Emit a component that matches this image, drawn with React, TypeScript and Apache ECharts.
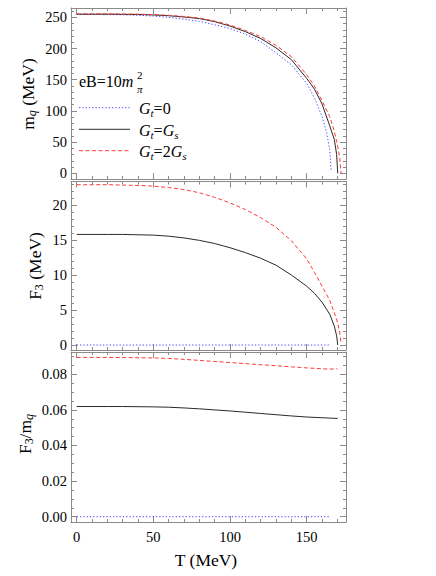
import React, { useEffect, useRef } from "react";
import * as echarts from "echarts";

// ---------- data ----------
const tBlack = [0, 10, 20, 30, 40, 50, 60, 70, 80, 90, 100, 110, 120, 130, 140, 150, 155, 160, 165, 168, 169.5, 170.2];
const mBlack = [255, 255, 255, 254.8, 254.5, 253.8, 252.5, 250.5, 248, 243, 236, 227, 216, 201, 182, 152, 135, 111, 76, 54, 30, 0];
const fBlack = [15.8, 15.8, 15.8, 15.8, 15.75, 15.7, 15.55, 15.3, 14.95, 14.5, 13.9, 13.2, 12.4, 11.4, 10.0, 8.4, 7.4, 6.1, 4.4, 2.7, 1.3, 0];

const tRed = [0, 10, 20, 30, 40, 50, 60, 70, 80, 90, 100, 110, 120, 130, 140, 150, 155, 160, 165, 168, 170, 171.5, 172.4];
const mRed = [255.5, 255.5, 255.5, 255.3, 255, 254.4, 253.2, 251.3, 248.8, 244, 237.5, 229, 219, 205, 187, 158, 140, 116, 91, 67, 46, 25, 0];
const fRed = [22.9, 22.9, 22.9, 22.85, 22.8, 22.7, 22.5, 22.2, 21.75, 21.1, 20.3, 19.35, 18.2, 16.8, 14.9, 12.3, 10.4, 8.4, 6.4, 4.6, 3.3, 1.8, 0.2];

const tBlue = [0, 10, 20, 30, 40, 50, 60, 70, 80, 90, 100, 110, 120, 130, 140, 150, 155, 160, 163, 165, 165.9];
const mBlue = [254.5, 254.5, 254.3, 254, 253.3, 252, 250, 247, 243.5, 238, 232, 223, 211, 193, 174, 144, 121, 91, 65, 38, 3];
const tBlueFlat = [0, 165.3];
const fBlue = [0, 0];
const rBlue = [0, 0];

const tRatioBlack = [0, 10, 20, 30, 40, 50, 60, 70, 80, 90, 100, 110, 120, 130, 140, 150, 160, 165, 170.2];
const rBlack = [0.0619, 0.0619, 0.0619, 0.0619, 0.0618, 0.0617, 0.0615, 0.0611, 0.0606, 0.06, 0.0594, 0.0587, 0.058, 0.0573, 0.0566, 0.056, 0.0556, 0.0554, 0.0552];
const tRatioRed = [0, 10, 20, 30, 40, 50, 60, 70, 80, 90, 100, 110, 120, 130, 140, 150, 160, 165, 170];
const rRed = [0.0895, 0.0895, 0.0895, 0.0894, 0.0893, 0.0892, 0.0889, 0.0884, 0.0878, 0.0872, 0.0866, 0.086, 0.0854, 0.0848, 0.0842, 0.0836, 0.0831, 0.0829, 0.0831];

const xMajor = [0, 50, 100, 150];
const xMinor = [0, 10, 20, 30, 40, 50, 60, 70, 80, 90, 100, 110, 120, 130, 140, 150, 160, 170];
const y1Major = [0, 50, 100, 150, 200, 250];
const y1Minor = [0, 10, 20, 30, 40, 50, 60, 70, 80, 90, 100, 110, 120, 130, 140, 150, 160, 170, 180, 190, 200, 210, 220, 230, 240, 250, 260];
const y2Major = [0, 5, 10, 15, 20];
const y2Minor = [0, 1, 2, 3, 4, 5, 6, 7, 8, 9, 10, 11, 12, 13, 14, 15, 16, 17, 18, 19, 20, 21, 22, 23];
const y3Major = [0, 0.02, 0.04, 0.06, 0.08];
const y3Minor = [0, 0.005, 0.01, 0.015, 0.02, 0.025, 0.03, 0.035, 0.04, 0.045, 0.05, 0.055, 0.06, 0.065, 0.07, 0.075, 0.08, 0.085, 0.09];

const legendNames = ["G_t=0", "G_t=G_s", "G_t=2G_s"];

// ---------- styles ----------
const FONT = "Liberation Serif, DejaVu Serif, serif";
const FRAME = "#8a8a8a";
const BLUE = "#4a4aff";
const BLACK = "#2a2a2a";
const RED = "#ff3a3a";
const DOT: number[] = [1.3, 2];
const DASH: number[] = [4, 2.5];

const XMIN = -3.7;
const XMAX = 175.6;

const grids = [
  { left: 71, top: 8, width: 275, height: 171 },
  { left: 71, top: 181.5, width: 275, height: 168.5 },
  { left: 71, top: 352, width: 275, height: 170 },
];
const yRanges = [
  { min: -9.1, max: 264.9, major: y1Major, minor: y1Minor, dec: 0 },
  { min: -0.71, max: 23.36, major: y2Major, minor: y2Minor, dec: 0 },
  { min: -0.00298, max: 0.09253, major: y3Major, minor: y3Minor, dec: 2 },
];

function xAxes(g: number) {
  const base = (pos: string, vals: number[], len: number, line: boolean, label: boolean) => ({
    type: "value",
    gridIndex: g,
    position: pos,
    min: XMIN,
    max: XMAX,
    splitLine: { show: false },
    axisLine: { show: line, onZero: false, lineStyle: { color: FRAME, width: 1 } },
    axisTick: { show: true, inside: true, length: len, customValues: vals, lineStyle: { color: FRAME, width: 1 } },
    axisLabel: {
      show: label,
      customValues: vals,
      margin: 7,
      color: "#000",
      fontFamily: FONT,
      fontSize: 14.5,
    },
  });
  return [
    base("bottom", xMajor, 6, true, g === 2),
    base("bottom", xMinor, 3, false, false),
    base("top", xMajor, 6, true, false),
    base("top", xMinor, 3, false, false),
  ];
}

function yAxes(g: number) {
  const r = yRanges[g];
  const base = (pos: string, vals: number[], len: number, line: boolean, label: boolean) => ({
    type: "value",
    gridIndex: g,
    position: pos,
    min: r.min,
    max: r.max,
    splitLine: { show: false },
    axisLine: { show: line, onZero: false, lineStyle: { color: FRAME, width: 1 } },
    axisTick: { show: true, inside: true, length: len, customValues: vals, lineStyle: { color: FRAME, width: 1 } },
    axisLabel: {
      show: label,
      customValues: vals,
      margin: 4,
      color: "#000",
      fontFamily: FONT,
      fontSize: 14.5,
      formatter: (v: number) => v.toFixed(r.dec),
    },
  });
  return [
    base("left", r.major, 6, true, true),
    base("left", r.minor, 3, false, false),
    base("right", r.major, 6, true, false),
    base("right", r.minor, 3, false, false),
  ];
}

function pairs(t: number[], v: number[]) {
  return t.map((x, i) => [x, v[i]]);
}

function lineSeries(name: string, g: number, t: number[], v: number[], color: string, type: any) {
  return {
    name,
    type: "line",
    xAxisIndex: g * 4,
    yAxisIndex: g * 4,
    data: pairs(t, v),
    showSymbol: false,
    symbol: "none",
    silent: true,
    lineStyle: { color, width: 1, type },
    z: 3,
  };
}

const sub = (size: number, italic: boolean) => ({
  fontFamily: FONT,
  fontSize: size,
  fontStyle: italic ? "italic" : "normal",
  verticalAlign: "bottom",
  lineHeight: 10,
  fill: "#000",
  color: "#000",
});
const main = (size: number, italic: boolean) => ({
  fontFamily: FONT,
  fontSize: size,
  fontStyle: italic ? "italic" : "normal",
  lineHeight: 20,
  fill: "#000",
  color: "#000",
});

function legendRich(label: string) {
  if (label === legendNames[0]) return "{g|G}{s|t}{n|=0}";
  if (label === legendNames[1]) return "{g|G}{s|t}{n|=}{g|G}{s|s}";
  return "{g|G}{s|t}{n|=2}{g|G}{s|s}";
}

export default function App() {
  const ref = useRef<HTMLDivElement>(null);
  useEffect(() => {
    if (!ref.current) return;
    const chart = echarts.init(ref.current, undefined, { renderer: "svg" });
    const legendRich2 = { g: main(16, true), s: sub(11, true), n: main(16, false) };
    const legendItems = [
      { y: 107.7, color: BLUE, dash: DOT, name: legendNames[0] },
      { y: 129.3, color: BLACK, dash: null, name: legendNames[1] },
      { y: 150.7, color: RED, dash: DASH, name: legendNames[2] },
    ];
    const graphic: any[] = [];
    legendItems.forEach((it) => {
      graphic.push({
        type: "line",
        shape: { x1: 79, y1: it.y, x2: 130, y2: it.y },
        style: { stroke: it.color, lineWidth: 1, lineDash: it.dash || undefined },
        silent: true,
      });
      graphic.push({
        type: "text",
        x: 139,
        y: it.y + 1,
        style: {
          text: legendRich(it.name),
          rich: legendRich2,
          verticalAlign: "middle",
          align: "left",
          fill: "#000",
        },
        silent: true,
      });
    });
    // eB = 10 m_pi^2
    graphic.push({
      type: "text",
      x: 79,
      y: 81,
      style: {
        text: "{a|eB=10}{i|m}",
        rich: { a: main(16, false), i: main(16, true) },
        verticalAlign: "middle",
        align: "left",
        fill: "#000",
      },
      silent: true,
    });
    graphic.push({
      type: "text",
      x: 137,
      y: 75,
      style: { text: "2", font: `11px ${FONT}`, fill: "#000", verticalAlign: "middle", align: "left" },
      silent: true,
    });
    graphic.push({
      type: "text",
      x: 137,
      y: 89,
      style: { text: "π", font: `italic 11px ${FONT}`, fill: "#000", verticalAlign: "middle", align: "left" },
      silent: true,
    });
    // axis names
    const yNames = [
      { x: 28, y: 94, text: "{a|m}{q|q}{a| (MeV)}" },
      { x: 35, y: 266, text: "{a|F}{s|3}{a| (MeV)}" },
      { x: 25, y: 434, text: "{a|F}{s|3}{a|/m}{q|q}" },
    ];
    yNames.forEach((n) => {
      const rich: any = { a: main(17.5, false), s: sub(12, false), q: sub(12, true) };
      graphic.push({
        type: "text",
        x: n.x,
        y: n.y,
        rotation: Math.PI / 2,
        style: { text: n.text, rich, align: "center", verticalAlign: "middle", fill: "#000" },
        silent: true,
      });
    });
    graphic.push({
      type: "text",
      x: 206,
      y: 560,
      style: { text: "T (MeV)", font: `17.5px ${FONT}`, fill: "#000", align: "center", verticalAlign: "middle" },
      silent: true,
    });

    const option: any = {
      animation: false,
      backgroundColor: "#fff",
      grid: grids.map((g) => ({ ...g, containLabel: false })),
      xAxis: [...xAxes(0), ...xAxes(1), ...xAxes(2)],
      yAxis: [...yAxes(0), ...yAxes(1), ...yAxes(2)],
      series: [
        lineSeries(legendNames[0], 0, tBlue, mBlue, BLUE, DOT),
        lineSeries(legendNames[1], 0, tBlack, mBlack, BLACK, "solid"),
        lineSeries(legendNames[2], 0, tRed, mRed, RED, DASH),
        lineSeries(legendNames[0], 1, tBlueFlat, fBlue, BLUE, DOT),
        lineSeries(legendNames[1], 1, tBlack, fBlack, BLACK, "solid"),
        lineSeries(legendNames[2], 1, tRed, fRed, RED, DASH),
        lineSeries(legendNames[0], 2, tBlueFlat, rBlue, BLUE, DOT),
        lineSeries(legendNames[1], 2, tRatioBlack, rBlack, BLACK, "solid"),
        lineSeries(legendNames[2], 2, tRatioRed, rRed, RED, DASH),
      ],
      graphic,
    };
    chart.setOption(option);
    return () => chart.dispose();
  }, []);
  return (
    <div
      ref={ref}
      style={{ position: "fixed", left: 0, top: 0, width: 436, height: 576, background: "#fff" }}
    />
  );
}
